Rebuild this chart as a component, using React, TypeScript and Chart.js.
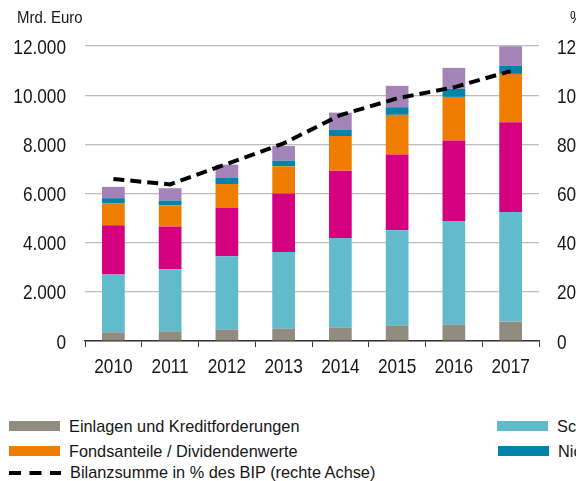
import React, { useEffect, useRef } from "react";
import { Chart, registerables } from "chart.js";

Chart.register(...registerables);

const years = ["2010", "2011", "2012", "2013", "2014", "2015", "2016", "2017"];

const einlagen = [350, 390, 460, 500, 555, 625, 665, 790];
const schuldverschreibungen = [2360, 2530, 2985, 3120, 3635, 3880, 4220, 4460];
const aktien = [2000, 1740, 1965, 2375, 2740, 3080, 3270, 3650];
const fondsanteile = [880, 855, 975, 1110, 1410, 1615, 1775, 1965];
const nichtfinanziell = [220, 200, 245, 230, 245, 310, 325, 325];
const sonstige = [460, 500, 545, 600, 705, 870, 855, 800];
const bilanzsummeBIP = [65.9, 63.7, 72.0, 80.4, 91.9, 98.7, 103.2, 109.8];

const leftTicks = [0, 2000, 4000, 6000, 8000, 10000, 12000];
const rightTicks = [0, 20, 40, 60, 80, 100, 120];

const FONT = "'Liberation Sans', Arial, sans-serif";
const NARROW = 0.82;
const TEXT = "#161616";

const COLORS = {
  gray: "#918c80",
  teal: "#62bbcc",
  magenta: "#d5007f",
  orange: "#ef7d00",
  blue: "#0084aa",
  purple: "#a484b8",
};

const fmt = (v: number) => String(v).replace(/\B(?=(\d{3})+(?!\d))/g, ".");

type LegendItem = { label: string; color: string; dashed?: boolean; x: number; row: number };

const legendItems: LegendItem[] = [
  { label: "Einlagen und Kreditforderungen", color: COLORS.gray, x: 9, row: 0 },
  { label: "Schuldverschreibungen", color: COLORS.teal, x: 497, row: 0 },
  { label: "Aktien und sonstige Anteilsrechte", color: COLORS.magenta, x: 860, row: 0 },
  { label: "Fondsanteile / Dividendenwerte", color: COLORS.orange, x: 9, row: 1 },
  { label: "Nichtfinanzielle Vermögenswerte", color: COLORS.blue, x: 498, row: 1 },
  { label: "Sonstige Aktiva", color: COLORS.purple, x: 860, row: 1 },
  { label: "Bilanzsumme in % des BIP (rechte Achse)", color: "#000", dashed: true, x: 9, row: 2 },
];

const rowTops = [413.6, 438.5, 460];

// Draws tick labels in a condensed form (horizontal scale), positioned through the scales.
const narrowTicks = {
  id: "narrowTicks",
  afterDraw(chart: any) {
    const ctx: CanvasRenderingContext2D = chart.ctx;
    const area = chart.chartArea;
    const size = 21;
    const cap = 0.716 * size;
    ctx.save();
    ctx.font = `${size}px ${FONT}`;
    ctx.fillStyle = TEXT;
    ctx.textBaseline = "alphabetic";
    const draw = (text: string, x: number, y: number, align: "left" | "right" | "center") => {
      ctx.save();
      ctx.translate(x, y);
      ctx.scale(NARROW, 1);
      ctx.textAlign = align;
      ctx.fillText(text, 0, 0);
      ctx.restore();
    };
    const xs = chart.scales.x;
    xs.ticks.forEach((t: any, i: number) => {
      draw(String(chart.data.labels[i]), xs.getPixelForTick(i), area.bottom + 32, "center");
    });
    const ys = chart.scales.y;
    ys.ticks.forEach((t: any) => {
      draw(fmt(t.value), area.left - 19, ys.getPixelForValue(t.value) + cap / 2, "right");
    });
    const y1 = chart.scales.y1;
    y1.ticks.forEach((t: any) => {
      draw(String(t.value), area.right + 18, y1.getPixelForValue(t.value) + cap / 2, "left");
    });
    ctx.restore();
  },
};

export default function App() {
  const ref = useRef<HTMLCanvasElement | null>(null);

  useEffect(() => {
    if (!ref.current) return;
    const barDs = (label: string, data: number[], color: string) => ({
      type: "bar" as const,
      label,
      data,
      backgroundColor: color,
      borderWidth: 0,
      yAxisID: "y",
      stack: "s",
      order: 1,
      barPercentage: 0.4,
      categoryPercentage: 1,
    });
    const chart = new Chart(ref.current, {
      type: "bar",
      data: {
        labels: years,
        datasets: [
          {
            type: "line",
            label: "Bilanzsumme in % des BIP (rechte Achse)",
            data: bilanzsummeBIP,
            borderColor: "#000",
            borderWidth: 4,
            borderDash: [11, 6],
            pointRadius: 0,
            fill: false,
            tension: 0,
            yAxisID: "y1",
            order: 0,
          } as any,
          barDs("Einlagen und Kreditforderungen", einlagen, COLORS.gray),
          barDs("Schuldverschreibungen", schuldverschreibungen, COLORS.teal),
          barDs("Aktien und sonstige Anteilsrechte", aktien, COLORS.magenta),
          barDs("Fondsanteile / Dividendenwerte", fondsanteile, COLORS.orange),
          barDs("Nichtfinanzielle Vermögenswerte", nichtfinanziell, COLORS.blue),
          barDs("Sonstige Aktiva", sonstige, COLORS.purple),
        ],
      },
      options: {
        responsive: false,
        animation: false,
        devicePixelRatio: 1,
        layout: { padding: { top: 46, left: 0, right: 0, bottom: 0 } },
        plugins: { legend: { display: false }, tooltip: { enabled: false } },
        scales: {
          x: {
            stacked: true,
            offset: true,
            grid: { drawOnChartArea: false, drawTicks: true, tickLength: 6, color: "#333", offset: true },
            border: { display: true, color: "#333", width: 1.5 },
            ticks: { display: false },
            afterFit: (s: any) => { s.height = 59; },
          },
          y: {
            stacked: true,
            min: 0,
            max: 12000,
            afterBuildTicks: (s: any) => { s.ticks = leftTicks.map((v) => ({ value: v })); },
            ticks: { display: false },
            grid: { color: "#bdbdbd", lineWidth: 1.2, drawTicks: false },
            border: { display: false },
            afterFit: (s: any) => { s.width = 85; },
          },
          y1: {
            position: "right",
            min: 0,
            max: 120,
            afterBuildTicks: (s: any) => { s.ticks = rightTicks.map((v) => ({ value: v })); },
            ticks: { display: false },
            grid: { drawOnChartArea: false, drawTicks: false },
            border: { display: false },
            afterFit: (s: any) => { s.width = 61; },
          },
        },
      },
      plugins: [narrowTicks],
    });
    return () => chart.destroy();
  }, []);

  const narrowText = (text: string, size: number, scale = NARROW) => (
    <span style={{ display: "inline-block", fontSize: size, transform: `scaleX(${scale})`, transformOrigin: "left center" }}>{text}</span>
  );

  return (
    <div style={{ position: "fixed", left: 0, top: 0, width: 576, height: 481, overflow: "hidden", background: "#fff", fontFamily: FONT, color: TEXT }}>
      <canvas ref={ref} width={600} height={400} style={{ position: "absolute", left: 0, top: 0, width: 600, height: 400 }} />
      <div style={{ position: "absolute", left: 17, top: 8, lineHeight: "20px", whiteSpace: "nowrap" }}>{narrowText("Mrd. Euro", 17, 0.88)}</div>
      <div style={{ position: "absolute", left: 570, top: 8, lineHeight: "20px", whiteSpace: "nowrap" }}>{narrowText("%", 17, 0.88)}</div>
      {legendItems.map((it, i) => (
        <div key={i} style={{ position: "absolute", left: it.x, top: rowTops[it.row], height: 25, display: "flex", alignItems: "center", whiteSpace: "nowrap", lineHeight: "25px" }}>
          {it.dashed ? (
            <svg width={52} height={10} style={{ display: "block" }}>
              <line x1={0} y1={5} x2={52} y2={5} stroke="#000" strokeWidth={4} strokeDasharray="12 8.5" />
            </svg>
          ) : (
            <div style={{ width: 51, height: 10.5, background: it.color }} />
          )}
          <span style={{ marginLeft: 9 }}>{narrowText(it.label, 17, 0.96)}</span>
        </div>
      ))}
    </div>
  );
}
